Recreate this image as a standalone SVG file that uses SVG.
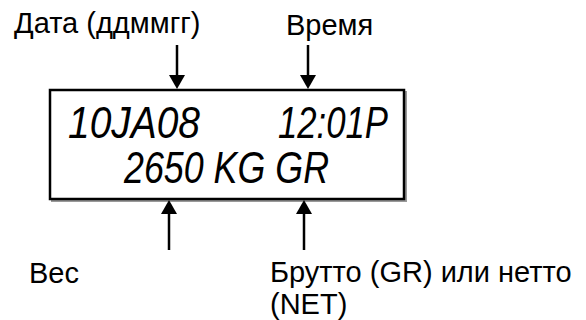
<svg xmlns="http://www.w3.org/2000/svg" width="586" height="320" viewBox="0 0 586 320">
  <defs>
    <style>
      .lbl { font-family: "Liberation Sans", Arial, sans-serif; font-size: 29px; fill: #000; }
      .lcd { font-family: "Liberation Sans Narrow", "Liberation Sans", sans-serif; font-style: italic; font-size: 44px; fill: #000; }
      .conn { stroke: #000; stroke-width: 2.5; fill: none; }
      .head { fill: #000; }
    </style>
  </defs>
  <rect width="586" height="320" fill="#fff"/>

  <g id="display">
    <rect x="52" y="92" width="354" height="109" fill="none" stroke="#999" stroke-width="2"/>
    <rect x="50" y="90" width="354" height="109" fill="#fff" stroke="#000" stroke-width="2.5"/>
    <text class="lcd" x="68" y="138" textLength="132" lengthAdjust="spacingAndGlyphs">10JA08</text>
    <text class="lcd" x="278" y="138" textLength="110" lengthAdjust="spacingAndGlyphs">12:01P</text>
    <text class="lcd" x="124" y="183" textLength="205" lengthAdjust="spacingAndGlyphs">2650 KG GR</text>
  </g>

  <g id="label-date">
    <text class="lbl" x="14" y="33">Дата (ддммгг)</text>
  </g>
  <g id="label-time">
    <text class="lbl" x="286" y="35">Время</text>
  </g>
  <g id="label-weight">
    <text class="lbl" x="29" y="283">Вес</text>
  </g>
  <g id="label-gross">
    <text class="lbl" x="270" y="282">Брутто (GR) или нетто</text>
    <text class="lbl" x="270" y="314">(NET)</text>
  </g>

  <g id="connectors">
    <line class="conn" x1="177" y1="45" x2="177" y2="76"/>
    <polygon class="head" points="169,75 185,75 177,89"/>
    <line class="conn" x1="308" y1="45" x2="308" y2="76"/>
    <polygon class="head" points="300,75 316,75 308,89"/>
    <line class="conn" x1="169" y1="250" x2="169" y2="213"/>
    <polygon class="head" points="161,214 177,214 169,200"/>
    <line class="conn" x1="304" y1="250" x2="304" y2="213"/>
    <polygon class="head" points="296,214 312,214 304,200"/>
  </g>
</svg>
